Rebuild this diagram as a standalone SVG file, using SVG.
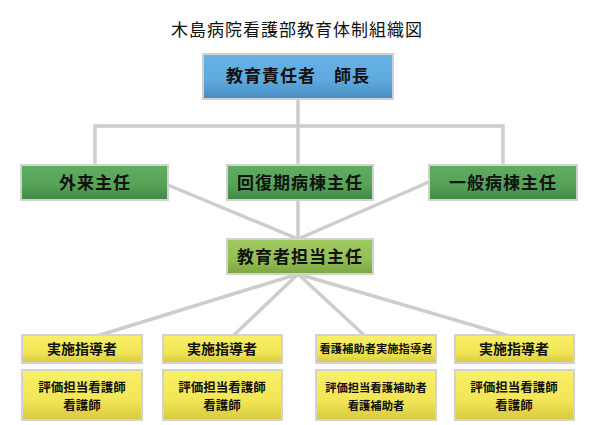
<svg xmlns="http://www.w3.org/2000/svg" width="600" height="425" viewBox="0 0 600 425">
<defs>
<linearGradient id="gBlue" x1="0" y1="0" x2="0" y2="1"><stop offset="0" stop-color="#66b4e8"/><stop offset="0.6" stop-color="#5ea8dc"/><stop offset="1" stop-color="#458cc2"/></linearGradient>
<linearGradient id="gGreen" x1="0" y1="0" x2="0" y2="1"><stop offset="0" stop-color="#5fae5f"/><stop offset="0.6" stop-color="#56a257"/><stop offset="1" stop-color="#3e8844"/></linearGradient>
<linearGradient id="gLime" x1="0" y1="0" x2="0" y2="1"><stop offset="0" stop-color="#a0c95e"/><stop offset="0.6" stop-color="#94bf54"/><stop offset="1" stop-color="#7aa540"/></linearGradient>
<linearGradient id="gYellow" x1="0" y1="0" x2="0" y2="1"><stop offset="0" stop-color="#faf068"/><stop offset="0.6" stop-color="#f2e656"/><stop offset="1" stop-color="#d8c93e"/></linearGradient>
</defs>
<style>
text{font-family:"Noto Sans CJK JP","Noto Sans CJK SC",sans-serif;fill:#111;text-anchor:middle}
.box{stroke:#d2d2d2;stroke-width:2}
.title{font-size:17px;letter-spacing:1px}
.big{font-size:17px;font-weight:bold;letter-spacing:1px}
.mid{font-size:14px;font-weight:bold}
.sm{font-size:12.5px;font-weight:bold}
.xs{font-size:11.3px;font-weight:bold}
.conn{stroke:#cdcdcd;stroke-width:3.5;fill:none}
</style>
<text class="title" x="297" y="36">木島病院看護部教育体制組織図</text>
<g id="connectors">
<polyline class="conn" points="95,165 95,126 503,126 503,165"/>
<line class="conn" x1="298" y1="99" x2="298" y2="239"/>
<line class="conn" x1="168" y1="185" x2="298" y2="239"/>
<line class="conn" x1="429" y1="182" x2="298" y2="239"/>
<line class="conn" x1="298" y1="274" x2="97" y2="336"/>
<line class="conn" x1="298" y1="274" x2="233" y2="336"/>
<line class="conn" x1="298" y1="274" x2="365" y2="336"/>
<line class="conn" x1="298" y1="274" x2="510" y2="336"/>
</g>
<g id="n_top"><rect class="box" x="203" y="54" width="190" height="45" fill="url(#gBlue)"/><text class="big" x="298" y="82">教育責任者　師長</text></g>
<g id="n_gairai"><rect class="box" x="21" y="165" width="147" height="35" fill="url(#gGreen)"/><text class="big" x="95" y="189">外来主任</text></g>
<g id="n_kaifuku"><rect class="box" x="227" y="165" width="146" height="35" fill="url(#gGreen)"/><text class="big" x="300" y="189">回復期病棟主任</text></g>
<g id="n_ippan"><rect class="box" x="429" y="165" width="148" height="35" fill="url(#gGreen)"/><text class="big" x="503" y="189">一般病棟主任</text></g>
<g id="n_kyoiku"><rect class="box" x="227" y="239" width="146" height="35" fill="url(#gLime)"/><text class="big" x="300" y="263">教育者担当主任</text></g>
<g id="n_j1"><rect class="box" x="22" y="335" width="120" height="28" fill="url(#gYellow)"/><text class="mid" x="82" y="354">実施指導者</text></g>
<g id="n_h1"><rect class="box" x="22" y="370" width="120" height="50" fill="url(#gYellow)"/><text class="sm" x="82" y="392">評価担当看護師</text><text class="sm" x="82" y="410">看護師</text></g>
<g id="n_j2"><rect class="box" x="163" y="335" width="119" height="28" fill="url(#gYellow)"/><text class="mid" x="222" y="354">実施指導者</text></g>
<g id="n_h2"><rect class="box" x="163" y="370" width="119" height="50" fill="url(#gYellow)"/><text class="sm" x="222" y="392">評価担当看護師</text><text class="sm" x="222" y="410">看護師</text></g>
<g id="n_j3"><rect class="box" x="316" y="335" width="120" height="28" fill="url(#gYellow)"/><text class="xs" x="376" y="353">看護補助者実施指導者</text></g>
<g id="n_h3"><rect class="box" x="316" y="370" width="120" height="50" fill="url(#gYellow)"/><text class="xs" x="376" y="392">評価担当看護補助者</text><text class="xs" x="376" y="410">看護補助者</text></g>
<g id="n_j4"><rect class="box" x="455" y="335" width="119" height="28" fill="url(#gYellow)"/><text class="mid" x="514" y="354">実施指導者</text></g>
<g id="n_h4"><rect class="box" x="455" y="370" width="119" height="50" fill="url(#gYellow)"/><text class="sm" x="514" y="392">評価担当看護師</text><text class="sm" x="514" y="410">看護師</text></g>
</svg>
